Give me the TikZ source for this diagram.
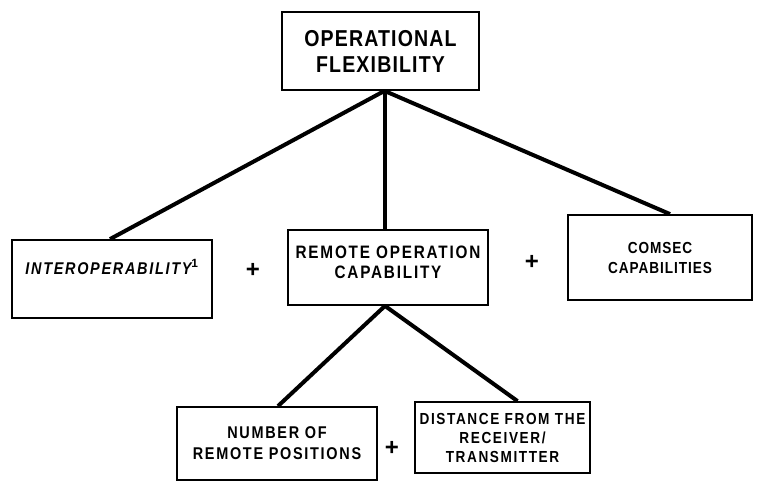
\documentclass[tikz,border=0pt]{standalone}
\usepackage{fontspec}
\setmainfont{Liberation Sans}
\newfontfamily\labfont[FakeStretch=0.85,LetterSpace=10]{Liberation Sans}
\newfontfamily\topfont[FakeStretch=0.85,LetterSpace=5]{Liberation Sans}
\newfontfamily\rfont[FakeStretch=0.85,LetterSpace=6]{Liberation Sans}
\usetikzlibrary{calc}
\tikzset{
  box/.style={draw, line width=1.8pt, inner sep=0pt, align=center, font=\labfont\bfseries\fontsize{18}{20}\selectfont},
  link/.style={line width=4pt},
  plus/.style={font=\bfseries\fontsize{24}{24}\selectfont, inner sep=0pt}
}
\begin{document}
\begin{tikzpicture}[x=1pt,y=1pt]
\useasboundingbox (0,0) rectangle (760,490);
\node[box, minimum width=197pt, minimum height=78pt, font=\topfont\bfseries\fontsize{23}{26}\selectfont] (top) at (380.5,439) {OPERATIONAL\\FLEXIBILITY};
\node[box, minimum width=200pt, minimum height=78pt, font=\labfont\bfseries\itshape\fontsize{17}{20}\selectfont] (left) at (112,211) {INTEROPERABILITY$^{\mathbf{1}}$\\[4pt]};
\node[box, minimum width=200pt, minimum height=75pt] (mid) at (388,222.5) {REMOTE OPERATION\\CAPABILITY\\[-10pt]};
\node[box, minimum width=184pt, minimum height=85pt, font=\rfont\bfseries\fontsize{16}{20}\selectfont] (right) at (660,232.5) {COMSEC\\CAPABILITIES};
\node[box, minimum width=200pt, minimum height=73pt, font=\labfont\bfseries\fontsize{17}{21}\selectfont] (bl) at (277,46.5) {NUMBER OF\\REMOTE POSITIONS};
\node[box, minimum width=175pt, minimum height=71pt, font=\labfont\bfseries\fontsize{16}{19}\selectfont] (br) at (502.5,52.5) {DISTANCE FROM THE\\RECEIVER/\\TRANSMITTER};
\node[plus] (p1) at (253,220) {+};
\node[plus] (p2) at (532,228) {+};
\node[plus] (p3) at (392,42) {+};
\coordinate (ts) at ($(top.south)+(4,0)$);
\draw[link] (ts) -- ($(left.north)+(-2,0)$);
\draw[link] (ts) -- (ts |- mid.north);
\draw[link] (ts) -- ($(right.north)+(10,0)$);
\coordinate (ms) at ($(mid.south)+(-3,0)$);
\draw[link] (ms) -- ($(bl.north)+(1,0)$);
\draw[link] (ms) -- ($(br.north)+(15,0)$);
\end{tikzpicture}
\end{document}
